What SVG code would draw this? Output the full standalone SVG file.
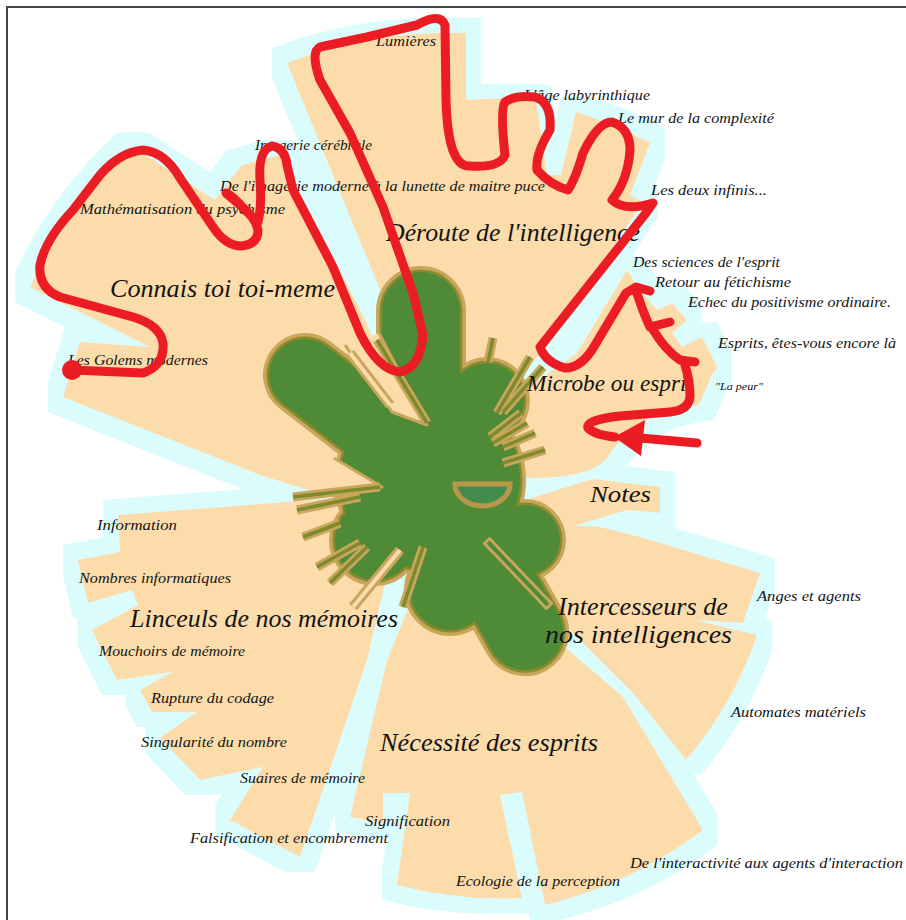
<svg xmlns="http://www.w3.org/2000/svg" xmlns:xlink="http://www.w3.org/1999/xlink" width="906" height="920" viewBox="0 0 906 920">
<style>
.pe{fill:#fddcab}
.t{font-family:"Liberation Serif","Times New Roman",serif;font-style:italic;fill:#141414}
.s{font-size:15px}
.b{font-size:25px}
.red{fill:none;stroke:#ec1c24;stroke-width:9;stroke-linecap:round;stroke-linejoin:round}
.rim{fill:none;stroke:#c8a65c;stroke-width:3;stroke-linejoin:round}
</style>
<defs>
<filter id="halo" x="-10%" y="-10%" width="120%" height="120%">
<feMorphology in="SourceAlpha" operator="dilate" radius="15" result="d"/>
<feFlood flood-color="#dafcfc"/>
<feComposite in2="d" operator="in" result="h"/>
<feMerge><feMergeNode in="h"/><feMergeNode in="SourceGraphic"/></feMerge>
</filter>
<g id="blobShape">
<circle cx="430" cy="480" r="90"/>
<rect x="382" y="272" width="78" height="210" rx="39"/>
<rect x="-36" y="-36" width="224" height="72" rx="36" transform="translate(305,375) rotate(37.8)"/>
<rect x="-38" y="-38" width="228" height="76" rx="38" transform="translate(450,500) rotate(60.4)"/>
<circle cx="450" cy="590" r="40"/>
<circle cx="525" cy="540" r="35"/>
<circle cx="487" cy="400" r="37"/>
<circle cx="375" cy="540" r="40"/>
</g>
<g id="bars">
<line x1="377" y1="340" x2="427" y2="423"/>
<line x1="493" y1="338" x2="488" y2="362"/>
<line x1="530" y1="357" x2="497" y2="413"/>
<line x1="543" y1="367" x2="503" y2="412"/>
<line x1="521" y1="413" x2="490" y2="437"/>
<line x1="527" y1="423" x2="493" y2="443"/>
<line x1="535" y1="433" x2="503" y2="447"/>
<line x1="545" y1="450" x2="503" y2="463"/>
<line x1="293" y1="497" x2="380" y2="487"/>
<line x1="297" y1="510" x2="360" y2="497"/>
<line x1="303" y1="537" x2="340" y2="523"/>
<line x1="317" y1="567" x2="360" y2="543"/>
<line x1="330" y1="583" x2="367" y2="547"/>
<line x1="403" y1="607" x2="423" y2="547"/>
</g>
<g id="pbars">
<line x1="350" y1="353" x2="390" y2="405"/>
<line x1="353" y1="607" x2="400" y2="550"/>
</g>
</defs>
<rect width="906" height="920" fill="#ffffff"/>
<path d="M7,920 L7,7 L906,7" fill="none" stroke="#444" stroke-width="2"/>

<g id="sectors" filter="url(#halo)">
<g id="sector-connais"><path class="pe" d="M340,500 L260,475 L63,397 L80,342 L150,347 L30,287 A450,450 0 0 1 133,147 L215,200 L242,165 L280,155 L367,323 L400,420 Z"/></g>
<g id="sector-deroute"><path class="pe" d="M400,420 L400,340 L383,297 L287,63 A460,460 0 0 1 466,33 L466,100 A400,400 0 0 1 536,100 L547,175 L561,175 L576,112 A412,412 0 0 1 650,143 L630,195 L643,202 L548,345 L480,420 Z"/></g>
<g id="sector-microbe"><path class="pe" d="M470,430 L577,353 L627,270 L640,290 L657,310 L672,303 L687,320 L672,333 L682,347 L702,337 L717,367 L712,375 L699,405 C650,410 625,430 607,458 Q592,478 530,478 L505,475 Z"/></g>
<g id="sector-notes"><path class="pe" d="M510,505 Q550,492 592,479 L660,487 L660,513 L627,510 L560,530 Z"/></g>
<g id="sector-intercesseurs"><path class="pe" d="M480,520 L600,527 L640,537 L760,573 L743,623 L695,620 L757,635 A375,375 0 0 1 686,760 L633,693 L563,623 L500,560 Z"/></g>
<g id="sector-necessite"><path class="pe" d="M470,560 L553,637 L623,697 L703,830 A430,430 0 0 1 545,905 L522,792 L500,795 L522,898 A410,410 0 0 1 397,885 L410,793 L383,793 L383,823 L350,817 L387,660 L420,580 Z"/></g>
<g id="sector-linceuls"><path class="pe" d="M400,520 L367,660 L300,857 L230,820 L263,767 L200,780 L160,738 L197,712 L152,712 L140,690 L172,672 L117,680 L92,630 L138,605 L132,590 L88,603 L78,560 L120,552 L118,515 L273,503 L340,498 Z"/></g>
</g>

<g id="core">
<use xlink:href="#blobShape" fill="#c8a65c" stroke="#c8a65c" stroke-width="12" stroke-linejoin="round"/>
<use xlink:href="#blobShape" fill="#8c8a2e" stroke="#8c8a2e" stroke-width="5"/>
<use xlink:href="#blobShape" fill="#4f8a36"/>
<polygon class="pe" points="345,345 379,333 427,425 392,412"/>
<polyline class="rim" points="379,333 427,425 392,412 345,345"/>
<polygon class="pe" points="334,458 382,487 334,497"/>
<polyline class="rim" points="334,458 382,487 334,497"/>
<use xlink:href="#bars" stroke="#c8a65c" stroke-width="9"/>
<use xlink:href="#bars" stroke="#7d8a2e" stroke-width="3.5"/>
<use xlink:href="#pbars" stroke="#c8a65c" stroke-width="10"/>
<use xlink:href="#pbars" stroke="#fddcab" stroke-width="4"/>
<line x1="486" y1="540" x2="550" y2="607" stroke="#c8a65c" stroke-width="10"/>
<line x1="488" y1="542" x2="548" y2="605" stroke="#4f8a36" stroke-width="4"/>
<path d="M455,484 L510,484 A27.5,22 0 0 1 455,484 Z" fill="#428d4d" stroke="#b9974a" stroke-width="5"/>
</g>

<g id="label-connais" class="t">
<text x="110" y="297" font-size="26" textLength="225" lengthAdjust="spacingAndGlyphs">Connais toi toi-meme</text>
<text class="s" x="80" y="214" textLength="205" lengthAdjust="spacingAndGlyphs">Mathématisation du psychisme</text>
<text class="s" x="68" y="365" textLength="140" lengthAdjust="spacingAndGlyphs">Les Golems modernes</text>
<text class="s" x="255" y="150" textLength="117" lengthAdjust="spacingAndGlyphs">Imagerie cérébrale</text>
<text class="s" x="220" y="191" textLength="325" lengthAdjust="spacingAndGlyphs">De l'imagerie moderne à la lunette de maitre puce</text>
</g>
<g id="label-deroute" class="t">
<text class="b" x="386" y="241" textLength="254" lengthAdjust="spacingAndGlyphs">Déroute de l'intelligence</text>
<text class="s" x="376" y="46" textLength="60" lengthAdjust="spacingAndGlyphs">Lumières</text>
<text class="s" x="524" y="100" textLength="126" lengthAdjust="spacingAndGlyphs">L'âge labyrinthique</text>
<text class="s" x="618" y="123" textLength="156" lengthAdjust="spacingAndGlyphs">Le mur de la complexité</text>
<text class="s" x="651" y="195" textLength="116" lengthAdjust="spacingAndGlyphs">Les deux infinis...</text>
</g>
<g id="label-microbe" class="t">
<text x="527" y="391" font-size="23" textLength="166" lengthAdjust="spacingAndGlyphs">Microbe ou esprit</text>
<text class="s" x="633" y="267" textLength="147" lengthAdjust="spacingAndGlyphs">Des sciences de l'esprit</text>
<text class="s" x="655" y="287" textLength="136" lengthAdjust="spacingAndGlyphs">Retour au fétichisme</text>
<text class="s" x="688" y="307" textLength="203" lengthAdjust="spacingAndGlyphs">Echec du positivisme ordinaire.</text>
<text class="s" x="718" y="348" textLength="178" lengthAdjust="spacingAndGlyphs">Esprits, êtes-vous encore là</text>
<text x="715" y="390" font-size="10" textLength="48" lengthAdjust="spacingAndGlyphs">"La peur"</text>
</g>
<g id="label-notes" class="t">
<text x="590" y="502" font-size="24" textLength="61" lengthAdjust="spacingAndGlyphs">Notes</text>
</g>
<g id="label-intercesseurs" class="t">
<text class="b" x="558" y="615" textLength="170" lengthAdjust="spacingAndGlyphs">Intercesseurs de</text>
<text class="b" x="545" y="643" textLength="187" lengthAdjust="spacingAndGlyphs">nos intelligences</text>
<text class="s" x="757" y="601" textLength="104" lengthAdjust="spacingAndGlyphs">Anges et agents</text>
<text class="s" x="731" y="717" textLength="135" lengthAdjust="spacingAndGlyphs">Automates matériels</text>
</g>
<g id="label-necessite" class="t">
<text class="b" x="380" y="751" textLength="218" lengthAdjust="spacingAndGlyphs">Nécessité des esprits</text>
<text class="s" x="365" y="826" textLength="85" lengthAdjust="spacingAndGlyphs">Signification</text>
<text class="s" x="456" y="886" textLength="164" lengthAdjust="spacingAndGlyphs">Ecologie de la perception</text>
<text class="s" x="630" y="868" textLength="273" lengthAdjust="spacingAndGlyphs">De l'interactivité aux agents d'interaction</text>
</g>
<g id="label-linceuls" class="t">
<text x="130" y="627" font-size="26" textLength="268" lengthAdjust="spacingAndGlyphs">Linceuls de nos mémoires</text>
<text class="s" x="97" y="530" textLength="80" lengthAdjust="spacingAndGlyphs">Information</text>
<text class="s" x="79" y="583" textLength="152" lengthAdjust="spacingAndGlyphs">Nombres informatiques</text>
<text class="s" x="99" y="656" textLength="146" lengthAdjust="spacingAndGlyphs">Mouchoirs de mémoire</text>
<text class="s" x="151" y="703" textLength="123" lengthAdjust="spacingAndGlyphs">Rupture du codage</text>
<text class="s" x="141" y="747" textLength="146" lengthAdjust="spacingAndGlyphs">Singularité du nombre</text>
<text class="s" x="240" y="783" textLength="125" lengthAdjust="spacingAndGlyphs">Suaires de mémoire</text>
<text class="s" x="190" y="843" textLength="198" lengthAdjust="spacingAndGlyphs">Falsification et encombrement</text>
</g>

<g id="connectors">
<circle cx="72" cy="370" r="10" fill="#ec1c24"/>
<path class="red" d="M72,370 L143,373 Q165,365 163,343 Q160,325 133,317 L60,297 Q38,288 40,265 Q45,240 73,210 L100,175 Q120,152 143,150 Q165,152 180,178 L213,227 Q225,245 240,246 Q258,245 258,230 Q256,218 240,205 L226,193 Q233,196 245,210 L258,222 Q262,205 260,180 Q258,150 272,146 Q285,148 287,165 L293,190 L333,267 L360,333 Q378,370 400,372 Q420,368 423,335 L413,293 L383,207 L350,133 L320,80 Q310,52 320,47 L367,37 L417,25 Q440,12 445,25 L446,100 Q448,168 470,166 Q500,168 505,155 Q500,110 505,102 Q515,95 535,97 Q552,102 550,130 Q535,155 537,170 Q550,185 568,190 Q575,180 583,153 Q598,122 612,122 Q630,128 630,150 Q628,180 612,200 Q625,212 653,203 L646,213 L540,347 Q545,362 565,368 Q582,368 595,345 L626,293 L636,287 L650,291 M636,290 Q642,310 650,327 L670,322 M652,328 Q665,350 680,360 L695,362 M684,362 Q690,380 690,395 Q690,410 670,412 L620,416 Q585,420 588,428 Q595,435 615,437"/>
<line class="red" x1="697" y1="443" x2="640" y2="438"/>
<polygon points="614,437 645,420 641,456" fill="#ec1c24"/>
</g>
</svg>
